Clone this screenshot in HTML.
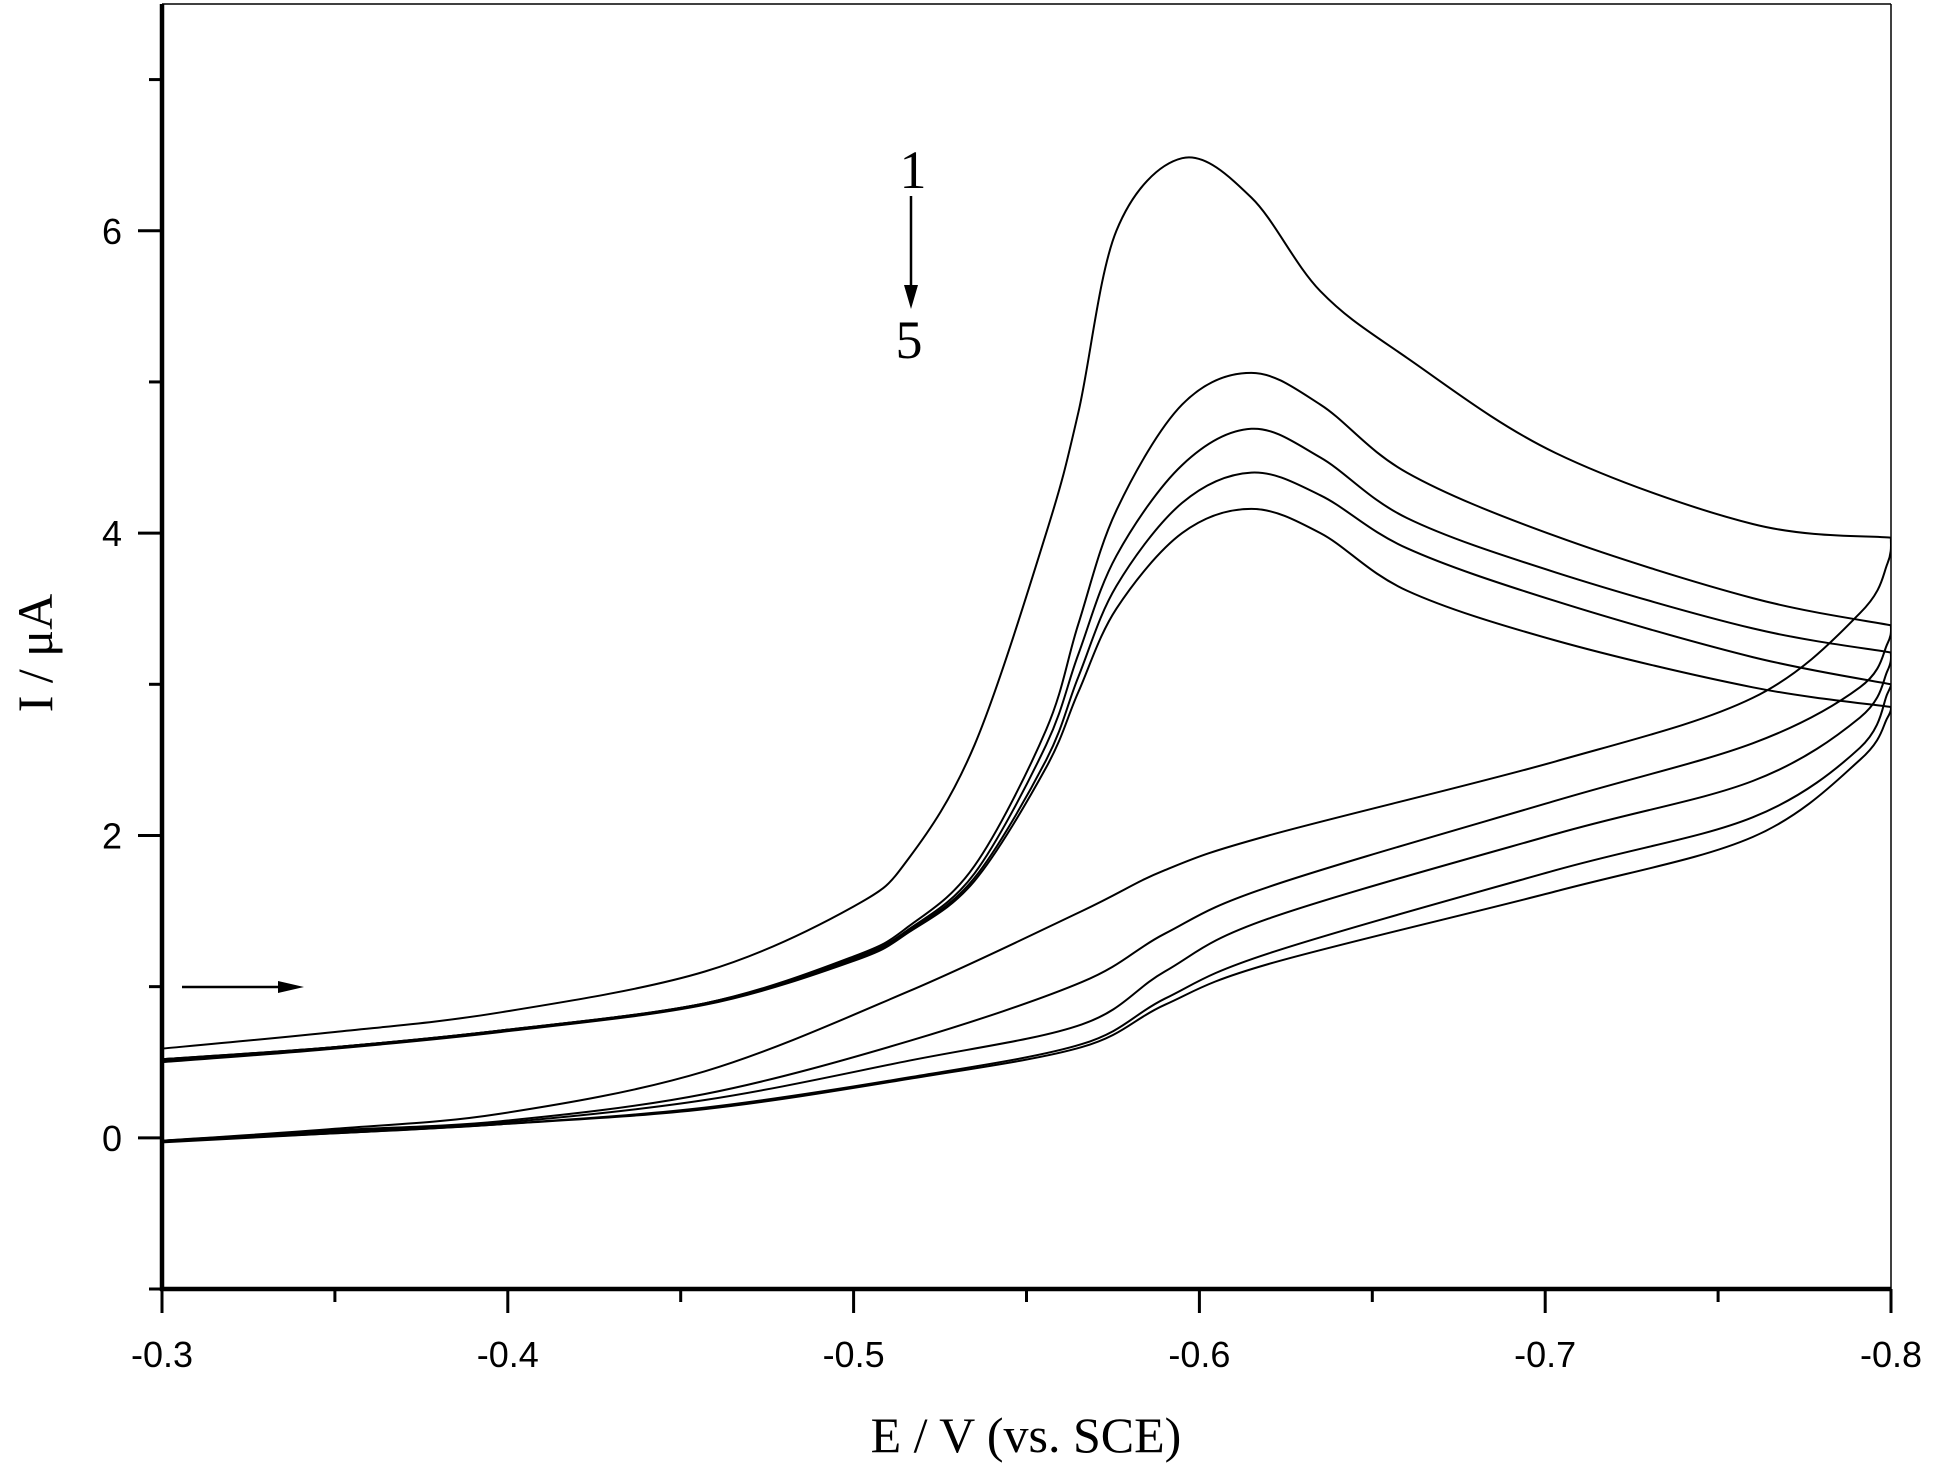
<!DOCTYPE html>
<html><head><meta charset="utf-8"><style>
html,body{margin:0;padding:0;background:#fff;}
svg{display:block;}
</style></head><body>
<svg id="chart" width="1934" height="1480" viewBox="0 0 1934 1480" xmlns="http://www.w3.org/2000/svg">
<defs><clipPath id="plotclip"><rect x="162" y="4" width="1729" height="1285"/></clipPath></defs>
<g id="axes"></g>
<g id="series" fill="none" stroke="#000" stroke-width="2" clip-path="url(#plotclip)"></g>
<text x="1026" y="1452" text-anchor="middle" font-family="Liberation Serif, serif" font-size="50">E / V (vs. SCE)</text>
<text transform="translate(52,653) rotate(-90)" text-anchor="middle" font-family="Liberation Serif, serif" font-size="50">I / μA</text>
<text x="913" y="188" text-anchor="middle" font-family="Liberation Serif, serif" font-size="54">1</text>
<text x="909" y="358" text-anchor="middle" font-family="Liberation Serif, serif" font-size="54">5</text>
<g><line x1="911" y1="196" x2="911" y2="292" stroke="#000" stroke-width="2.5"/><polygon points="904,285 918,285 911,309" fill="#000"/></g>
<g><line x1="182" y1="987" x2="285" y2="987" stroke="#000" stroke-width="2.5"/><polygon points="278,981 278,993 304,987" fill="#000"/></g>
</svg>
<script>
const xTicks=[-0.3,-0.4,-0.5,-0.6,-0.7,-0.8];
const xTickLabels=["-0.3","-0.4","-0.5","-0.6","-0.7","-0.8"];
const yTicks=[0,2,4,6];
const yTickLabels=["0","2","4","6"];
const upperE=[-0.3,-0.35,-0.398,-0.457,-0.5,-0.516,-0.535,-0.5557,-0.565,-0.576,-0.595,-0.615,-0.635,-0.66,-0.703,-0.76,-0.8];
const upper1=[0.59,0.70,0.83,1.10,1.53,1.85,2.60,4.00,4.80,6.00,6.48,6.22,5.60,5.16,4.53,4.06,3.97];
const upper2=[0.52,0.60,0.71,0.89,1.20,1.40,1.80,2.70,3.40,4.15,4.85,5.06,4.85,4.40,3.98,3.57,3.39];
const upper3=[0.52,0.60,0.71,0.89,1.19,1.38,1.75,2.60,3.20,3.85,4.45,4.69,4.50,4.10,3.74,3.37,3.21];
const upper4=[0.51,0.60,0.71,0.89,1.18,1.37,1.72,2.50,3.05,3.65,4.20,4.40,4.25,3.90,3.55,3.18,3.00];
const upper5=[0.50,0.59,0.70,0.88,1.17,1.36,1.70,2.45,2.95,3.50,4.00,4.16,4.00,3.62,3.29,2.98,2.85];
const lowerE=[-0.8,-0.799,-0.791,-0.76,-0.703,-0.62,-0.59,-0.566,-0.516,-0.457,-0.398,-0.35,-0.3];
const lower1=[3.97,3.80,3.47,2.91,2.49,2.00,1.77,1.50,0.97,0.44,0.16,0.06,-0.02];
const lower2=[3.39,3.27,2.98,2.61,2.23,1.66,1.35,1.03,0.64,0.29,0.11,0.05,-0.02];
const lower3=[3.21,3.09,2.78,2.36,2.01,1.45,1.10,0.75,0.51,0.25,0.10,0.04,-0.02];
const lower4=[3.00,2.94,2.58,2.12,1.77,1.22,0.92,0.62,0.40,0.20,0.09,0.03,-0.02];
const lower5=[2.85,2.78,2.50,1.99,1.63,1.15,0.88,0.60,0.39,0.19,0.09,0.03,-0.03];

const L=162,R=1891,T=4,B=1289;
const xMin=-0.3,xMax=-0.8,yMin=-1,yMax=7.5;
function X(v){return L+(v-xMin)/(xMax-xMin)*(R-L);}
function Y(v){return B-(v-yMin)/(yMax-yMin)*(B-T);}
const NS="http://www.w3.org/2000/svg";
function mk(tag,attrs,parent){const e=document.createElementNS(NS,tag);for(const k in attrs)e.setAttribute(k,attrs[k]);parent.appendChild(e);return e;}
const axes=document.getElementById('axes');
let e;
e=mk('line',{x1:L,y1:T,x2:R,y2:T,stroke:'#000','stroke-width':1.5},axes);


e=mk('line',{x1:R,y1:T,x2:R,y2:B,stroke:'#000','stroke-width':1.5},axes);


e=mk('line',{x1:L,y1:T,x2:L,y2:B+2,stroke:'#000','stroke-width':4.5},axes);


e=mk('line',{x1:L-2,y1:B,x2:R,y2:B,stroke:'#000','stroke-width':4.5},axes);


for(let i=0;i<xTicks.length;i++){
  const x=X(xTicks[i]);
  e=mk('line',{x1:x,y1:B,x2:x,y2:B+24,stroke:'#000','stroke-width':3},axes);
  
  
  e=mk('text',{x:x,y:B+78,'text-anchor':'middle','font-family':'Liberation Sans, sans-serif','font-size':36},axes);
  e.textContent=xTickLabels[i];
  
  
  if(i<xTicks.length-1){
    const xm=X(xTicks[i]-0.05);
    e=mk('line',{x1:xm,y1:B,x2:xm,y2:B+13,stroke:'#000','stroke-width':3},axes);
    
    
  }
}
for(let i=0;i<yTicks.length;i++){
  const y=Y(yTicks[i]);
  e=mk('line',{x1:L-24,y1:y,x2:L,y2:y,stroke:'#000','stroke-width':3},axes);
  
  
  e=mk('text',{x:L-40,y:y+13,'text-anchor':'end','font-family':'Liberation Sans, sans-serif','font-size':36},axes);
  e.textContent=yTickLabels[i];
  
  
}
[-1,1,3,5,7].forEach(v=>{
  const y=Y(v);
  e=mk('line',{x1:L-13,y1:y,x2:L,y2:y,stroke:'#000','stroke-width':3},axes);
  
  
});
function pathFrom(pts){
  let d='M'+pts[0][0].toFixed(1)+','+pts[0][1].toFixed(1);
  for(let i=0;i<pts.length-1;i++){
    const p0=pts[i-1]||pts[i],p1=pts[i],p2=pts[i+1],p3=pts[i+2]||pts[i+1];
    const c1=[p1[0]+(p2[0]-p0[0])/6,p1[1]+(p2[1]-p0[1])/6];
    const c2=[p2[0]-(p3[0]-p1[0])/6,p2[1]-(p3[1]-p1[1])/6];
    d+='C'+c1[0].toFixed(1)+','+c1[1].toFixed(1)+' '+c2[0].toFixed(1)+','+c2[1].toFixed(1)+' '+p2[0].toFixed(1)+','+p2[1].toFixed(1);
  }
  return d;
}
const series=document.getElementById('series');
const ups=[upper1,upper2,upper3,upper4,upper5];
const lows=[lower1,lower2,lower3,lower4,lower5];
for(let k=0;k<5;k++){
  const up=[];
  for(let i=0;i<upperE.length;i++)up.push([X(upperE[i]),Y(ups[k][i])]);
  const lo=[];
  for(let i=0;i<lowerE.length;i++)lo.push([X(lowerE[i]),Y(lows[k][i])]);
  e=mk('path',{d:pathFrom(up)},series);
  
  
  e=mk('path',{d:pathFrom(lo)},series);
  
  
}
</script>
</body></html>
